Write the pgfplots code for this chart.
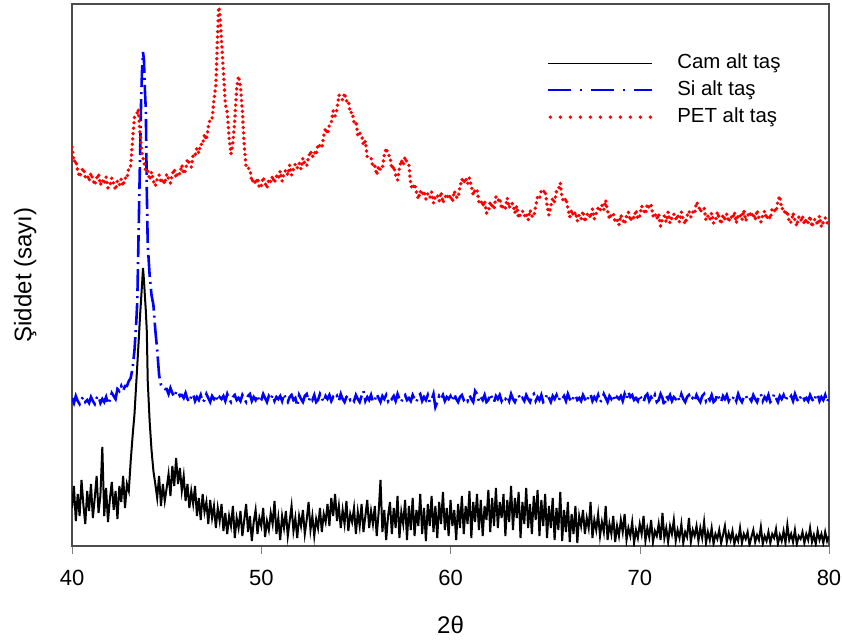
\documentclass[border=0pt]{standalone}
\usepackage{fontspec}
\setmainfont{Liberation Sans}
\usepackage{pgfplots}
\pgfplotsset{compat=1.18}
\pgfplotsset{
  thinlegend/.style={legend image code/.code={\draw[##1, line width=0.5pt] (0pt,0pt) -- (52pt,0pt);}},
  dashlegend/.style={legend image code/.code={\draw[##1, line width=1.1pt, dash pattern=on 11.5pt off 4.5pt on 1pt off 4.5pt] (0pt,0pt) -- (52pt,0pt);}},
  dotlegend/.style={legend image code/.code={\draw[##1, dash pattern=on 0pt off 5pt] (1pt,0pt) -- (52pt,0pt);}}}

\begin{document}
\begin{tikzpicture}
\begin{axis}[
  scale only axis,
  width=378.25pt, height=270.85pt,
  xmin=40, xmax=80, ymin=0, ymax=542,
  xtick={40,50,60,70,80}, ytick=\empty,
  xtick pos=bottom, tick align=outside, major tick length=4pt,
  axis line style={draw=black!70, line width=0.8pt},
  /pgf/number format/assume math mode=true,
  xticklabel style={font=\fontsize{11}{13}\selectfont, anchor=north, inner sep=0pt, yshift=-7.7pt},
  xlabel={2θ}, ylabel={Şiddet (sayı)},
  xlabel style={font=\fontsize{12}{14}\selectfont, at={(axis description cs:0.5,-0.146)}, anchor=center},
  ylabel style={font=\fontsize{12}{14}\selectfont, at={(axis description cs:-0.062,0.5)}, anchor=center},
  legend style={draw=none, fill=none, at={(axis description cs:0.6193,0.9171)}, anchor=north west,
    font=\fontsize{10.2}{12}\selectfont, row sep=3.7pt,
    nodes={inner sep=0pt, text height=7.5pt, text depth=2.3pt},
    /tikz/every odd column/.append style={column sep=11.5pt}},
  legend cell align=left,
]
% Cam alt tas
\addplot[black, line width=1.0pt, thinlegend] coordinates {
(40.0,38) (40.1,60) (40.2,25) (40.3,52) (40.4,30) (40.5,66) (40.6,41) (40.7,22) (40.8,55) (40.9,35)
(41.0,62) (41.1,28) (41.2,48) (41.3,70) (41.4,33) (41.5,51) (41.6,99) (41.7,30) (41.8,58) (41.9,24)
(42.0,47) (42.1,64) (42.2,36) (42.3,55) (42.4,27) (42.5,60) (42.6,44) (42.7,70) (42.8,38) (42.9,62)
(43.0,55) (43.1,85) (43.2,110) (43.3,132) (43.4,165) (43.5,198) (43.6,232) (43.7,262) (43.75,278) (43.8,266)
(43.85,250) (43.9,235) (43.95,215) (44.0,165) (44.1,125) (44.2,96) (44.3,75) (44.4,62) (44.5,48) (44.6,70)
(44.7,40) (44.8,62) (44.9,45) (45.0,58) (45.1,72) (45.2,50) (45.3,80) (45.4,60) (45.5,88) (45.6,62)
(45.7,78) (45.8,55) (45.9,70) (46.0,45) (46.1,62) (46.2,38) (46.3,55) (46.4,42) (46.5,60) (46.6,30)
(46.7,48) (46.8,26) (46.9,52) (47.0,34) (47.1,44) (47.2,22) (47.3,46) (47.4,28) (47.5,40) (47.6,18)
(47.7,38) (47.8,25) (47.9,42) (48.0,15) (48.1,33) (48.2,12) (48.3,30) (48.4,20) (48.5,40) (48.6,8)
(48.7,28) (48.8,18) (48.9,35) (49.0,10) (49.1,26) (49.2,42) (49.3,14) (49.4,30) (49.5,5) (49.6,24)
(49.7,36) (49.8,12) (49.9,28) (50.0,20) (50.1,38) (50.2,9) (50.3,25) (50.4,16) (50.5,33) (50.6,22)
(50.7,45) (50.8,12) (50.9,28) (51.0,6) (51.1,30) (51.2,18) (51.3,35) (51.4,10) (51.5,25) (51.6,40)
(51.7,15) (51.8,28) (51.9,8) (52.0,30) (52.1,20) (52.2,36) (52.3,12) (52.4,26) (52.5,44) (52.6,16)
(52.7,30) (52.8,10) (52.9,27) (53.0,18) (53.1,38) (53.2,14) (53.3,32) (53.4,24) (53.5,42) (53.6,20)
(53.7,48) (53.8,30) (53.9,52) (54.0,25) (54.1,40) (54.2,18) (54.3,36) (54.4,22) (54.5,45) (54.6,15)
(54.7,32) (54.8,24) (54.9,38) (55.0,12) (55.1,34) (55.2,20) (55.3,42) (55.4,14) (55.5,30) (55.6,46)
(55.7,18) (55.8,35) (55.9,22) (56.0,40) (56.1,10) (56.2,33) (56.3,66) (56.4,14) (56.5,36) (56.6,6)
(56.7,30) (56.8,44) (56.9,12) (57.0,38) (57.1,18) (57.2,50) (57.3,8) (57.4,34) (57.5,22) (57.6,46)
(57.7,6) (57.8,40) (57.9,16) (58.0,48) (58.1,10) (58.2,36) (58.3,20) (58.4,52) (58.5,12) (58.6,38)
(58.7,5) (58.8,42) (58.9,20) (59.0,50) (59.1,14) (59.2,40) (59.3,8) (59.4,44) (59.5,22) (59.6,54)
(59.7,16) (59.8,38) (59.9,10) (60.0,46) (60.1,20) (60.2,36) (60.3,6) (60.4,42) (60.5,18) (60.6,50)
(60.7,12) (60.8,40) (60.9,22) (61.0,55) (61.1,8) (61.2,44) (61.3,24) (61.4,52) (61.5,16) (61.6,46)
(61.7,10) (61.8,40) (61.9,26) (62.0,56) (62.1,14) (62.2,48) (62.3,20) (62.4,58) (62.5,18) (62.6,44)
(62.7,28) (62.8,52) (62.9,10) (63.0,46) (63.1,24) (63.2,60) (63.3,16) (63.4,48) (63.5,28) (63.6,54)
(63.7,8) (63.8,44) (63.9,22) (64.0,58) (64.1,18) (64.2,42) (64.3,12) (64.4,50) (64.5,26) (64.6,56)
(64.7,10) (64.8,46) (64.9,20) (65.0,52) (65.1,8) (65.2,40) (65.3,18) (65.4,48) (65.5,6) (65.6,38)
(65.7,16) (65.8,54) (65.9,5) (66.0,36) (66.1,14) (66.2,44) (66.3,4) (66.4,32) (66.5,12) (66.6,40)
(66.7,3) (66.8,30) (66.9,20) (67.0,36) (67.1,12) (67.2,28) (67.3,18) (67.4,44) (67.5,8) (67.6,26)
(67.7,16) (67.8,32) (67.9,10) (68.0,24) (68.1,14) (68.2,40) (68.3,6) (68.4,22) (68.5,12) (68.6,30)
(68.7,4) (68.8,20) (68.9,10) (69.0,26) (69.1,14) (69.2,32) (69.3,6) (69.4,18) (69.5,10) (69.6,24)
(69.7,3) (69.8,16) (69.9,8) (70.0,22) (70.1,12) (70.2,30) (70.3,5) (70.4,18) (70.5,9) (70.6,26)
(70.7,4) (70.8,15) (70.9,10) (71.0,22) (71.1,6) (71.2,33) (71.3,8) (71.4,18) (71.5,4) (71.6,20)
(71.7,12) (71.8,26) (71.9,5) (72.0,16) (72.1,8) (72.2,22) (72.3,3) (72.4,14) (72.5,9) (72.6,28)
(72.7,4) (72.8,16) (72.9,10) (73.0,20) (73.1,5) (73.2,18) (73.3,8) (73.4,24) (73.5,3) (73.6,14)
(73.7,6) (73.8,18) (73.9,2) (74.0,12) (74.1,7) (74.2,16) (74.3,3) (74.4,11) (74.5,20) (74.6,4)
(74.7,13) (74.8,6) (74.9,15) (75.0,2) (75.1,10) (75.2,5) (75.3,18) (75.4,3) (75.5,12) (75.6,7)
(75.7,14) (75.8,1) (75.9,9) (76.0,16) (76.1,4) (76.2,11) (76.3,6) (76.4,19) (76.5,2) (76.6,10)
(76.7,5) (76.8,14) (76.9,3) (77.0,12) (77.1,8) (77.2,17) (77.3,2) (77.4,11) (77.5,5) (77.6,15)
(77.7,3) (77.8,21) (77.9,6) (78.0,12) (78.1,4) (78.2,16) (78.3,2) (78.4,10) (78.5,7) (78.6,14)
(78.7,3) (78.8,12) (78.9,6) (79.0,18) (79.1,4) (79.2,11) (79.3,2) (79.4,15) (79.5,6) (79.6,12)
(79.7,3) (79.8,14) (79.9,5) (80.0,10)
};
\addlegendentry{Cam alt taş}
% Si alt tas
\addplot[blue, line width=1.3pt, dash pattern=on 11pt off 2.5pt on 1pt off 2.5pt, dashlegend] coordinates {
(40.0,148) (40.1,143) (40.2,150) (40.3,145) (40.4,142) (40.5,147) (40.6,149) (40.7,144) (40.8,146) (40.9,143)
(41.0,149) (41.1,145) (41.2,142) (41.3,148) (41.4,150) (41.5,143) (41.6,147) (41.7,144) (41.8,149) (41.9,142)
(42.0,146) (42.1,153) (42.2,150) (42.3,147) (42.4,157) (42.5,155) (42.6,160) (42.7,155) (42.8,160) (42.9,160)
(43.0,165) (43.1,168) (43.2,178) (43.3,196) (43.4,226) (43.45,246) (43.5,296) (43.55,346) (43.6,396) (43.65,446)
(43.7,476) (43.75,494) (43.8,486) (43.85,456) (43.9,436) (43.95,356) (44.0,301) (44.1,271) (44.2,251) (44.3,241)
(44.4,216) (44.5,196) (44.6,171) (44.7,161) (44.8,158) (44.9,157)
(45.0,157) (45.1,152) (45.2,158) (45.3,153) (45.4,149) (45.5,154) (45.6,155) (45.7,150) (45.8,151) (45.9,148)
(46.0,153) (46.1,147) (46.2,144) (46.3,150) (46.4,152) (46.5,145) (46.6,149) (46.7,146) (46.8,151) (46.9,144)
(47.0,146) (47.1,152) (47.2,148) (47.3,144) (47.4,150) (47.5,147) (47.6,151) (47.7,145) (47.8,149) (47.9,147)
(48.0,150) (48.1,145) (48.2,152) (48.3,147) (48.4,144) (48.5,149) (48.6,151) (48.7,146) (48.8,148) (48.9,145)
(49.0,151) (49.1,147) (49.2,144) (49.3,150) (49.4,152) (49.5,145) (49.6,149) (49.7,146) (49.8,151) (49.9,144)
(50.0,146) (50.1,152) (50.2,148) (50.3,144) (50.4,150) (50.5,147) (50.6,151) (50.7,145) (50.8,149) (50.9,147)
(51.0,150) (51.1,145) (51.2,152) (51.3,147) (51.4,144) (51.5,149) (51.6,151) (51.7,146) (51.8,148) (51.9,140)
(52.0,151) (52.1,147) (52.2,144) (52.3,150) (52.4,152) (52.5,145) (52.6,149) (52.7,146) (52.8,151) (52.9,144)
(53.0,146) (53.1,152) (53.2,148) (53.3,144) (53.4,150) (53.5,147) (53.6,151) (53.7,145) (53.8,149) (53.9,147)
(54.0,150) (54.1,145) (54.2,152) (54.3,147) (54.4,144) (54.5,149) (54.6,151) (54.7,146) (54.8,148) (54.9,145)
(55.0,151) (55.1,147) (55.2,144) (55.3,150) (55.4,155) (55.5,145) (55.6,149) (55.7,146) (55.8,151) (55.9,144)
(56.0,146) (56.1,152) (56.2,148) (56.3,144) (56.4,150) (56.5,147) (56.6,151) (56.7,145) (56.8,149) (56.9,147)
(57.0,150) (57.1,145) (57.2,152) (57.3,147) (57.4,144) (57.5,149) (57.6,151) (57.7,146) (57.8,148) (57.9,145)
(58.0,151) (58.1,147) (58.2,144) (58.3,150) (58.4,152) (58.5,145) (58.6,149) (58.7,146) (58.8,151) (58.9,144)
(59.0,146) (59.1,152) (59.2,139) (59.3,144) (59.4,150) (59.5,147) (59.6,151) (59.7,145) (59.8,149) (59.9,147)
(60.0,150) (60.1,145) (60.2,152) (60.3,147) (60.4,144) (60.5,149) (60.6,151) (60.7,146) (60.8,148) (60.9,145)
(61.0,151) (61.1,147) (61.2,144) (61.3,155) (61.4,152) (61.5,145) (61.6,149) (61.7,146) (61.8,151) (61.9,144)
(62.0,146) (62.1,152) (62.2,148) (62.3,144) (62.4,150) (62.5,147) (62.6,151) (62.7,145) (62.8,149) (62.9,147)
(63.0,150) (63.1,145) (63.2,152) (63.3,147) (63.4,144) (63.5,149) (63.6,151) (63.7,146) (63.8,148) (63.9,145)
(64.0,151) (64.1,147) (64.2,144) (64.3,150) (64.4,152) (64.5,145) (64.6,149) (64.7,146) (64.8,151) (64.9,144)
(65.0,146) (65.1,152) (65.2,148) (65.3,144) (65.4,150) (65.5,147) (65.6,151) (65.7,145) (65.8,149) (65.9,147)
(66.0,150) (66.1,145) (66.2,152) (66.3,147) (66.4,144) (66.5,149) (66.6,151) (66.7,146) (66.8,148) (66.9,145)
(67.0,151) (67.1,147) (67.2,144) (67.3,150) (67.4,152) (67.5,145) (67.6,149) (67.7,146) (67.8,151) (67.9,144)
(68.0,146) (68.1,152) (68.2,148) (68.3,144) (68.4,150) (68.5,147) (68.6,151) (68.7,145) (68.8,149) (68.9,147)
(69.0,150) (69.1,145) (69.2,152) (69.3,147) (69.4,154) (69.5,149) (69.6,151) (69.7,146) (69.8,148) (69.9,145)
(70.0,151) (70.1,147) (70.2,144) (70.3,150) (70.4,152) (70.5,145) (70.6,149) (70.7,146) (70.8,151) (70.9,144)
(71.0,146) (71.1,152) (71.2,148) (71.3,140) (71.4,150) (71.5,147) (71.6,151) (71.7,145) (71.8,149) (71.9,147)
(72.0,150) (72.1,145) (72.2,152) (72.3,147) (72.4,144) (72.5,149) (72.6,151) (72.7,146) (72.8,148) (72.9,145)
(73.0,151) (73.1,147) (73.2,144) (73.3,150) (73.4,152) (73.5,145) (73.6,149) (73.7,146) (73.8,151) (73.9,144)
(74.0,146) (74.1,152) (74.2,148) (74.3,144) (74.4,150) (74.5,147) (74.6,151) (74.7,145) (74.8,149) (74.9,147)
(75.0,150) (75.1,145) (75.2,152) (75.3,147) (75.4,144) (75.5,149) (75.6,151) (75.7,146) (75.8,148) (75.9,145)
(76.0,151) (76.1,147) (76.2,144) (76.3,150) (76.4,152) (76.5,145) (76.6,149) (76.7,146) (76.8,151) (76.9,144)
(77.0,146) (77.1,152) (77.2,148) (77.3,144) (77.4,150) (77.5,147) (77.6,151) (77.7,145) (77.8,149) (77.9,147)
(78.0,150) (78.1,145) (78.2,152) (78.3,147) (78.4,144) (78.5,149) (78.6,151) (78.7,146) (78.8,148) (78.9,145)
(79.0,151) (79.1,147) (79.2,144) (79.3,150) (79.4,152) (79.5,145) (79.6,149) (79.7,146) (79.8,151) (79.9,144)
(80.0,148)
};
\addlegendentry{Si alt taş}
% PET alt tas
\addplot[red, line width=1.9pt, line cap=round, dash pattern=on 0pt off 2.7pt, dotlegend] coordinates {
(40.0,399) (40.1,384) (40.2,386) (40.3,375) (40.4,369) (40.5,375) (40.6,378) (40.7,369) (40.8,371) (40.9,365)
(41.0,373) (41.1,367) (41.2,361) (41.3,368) (41.4,372) (41.5,361) (41.6,366) (41.7,362) (41.8,369) (41.9,358)
(42.0,360) (42.1,368) (42.2,362) (42.3,356) (42.4,365) (42.5,361) (42.6,367) (42.7,360) (42.8,368) (42.9,367)
(43.0,379) (43.1,380) (43.2,407) (43.3,429) (43.4,431) (43.5,437) (43.6,411) (43.7,392) (43.8,384) (43.9,374)
(44.0,375) (44.1,366) (44.2,374) (44.3,365) (44.4,360) (44.5,367) (44.6,371) (44.7,363) (44.8,367) (44.9,362)
(45.0,372) (45.1,367) (45.2,363) (45.3,372) (45.4,377) (45.5,368) (45.6,374) (45.7,372) (45.8,381) (45.9,372)
(46.0,376) (46.1,387) (46.2,383) (46.3,379) (46.4,391) (46.5,390) (46.6,398) (46.7,393) (46.8,402) (46.9,401)
(47.0,412) (47.1,406) (47.2,419) (47.3,427) (47.4,427) (47.5,446) (47.6,461) (47.7,516) (47.75,539) (47.8,535)
(47.9,505) (48.0,474) (48.1,442) (48.2,434) (48.3,408) (48.4,392) (48.5,403) (48.6,426) (48.7,458) (48.8,470)
(48.9,459) (49.0,435) (49.1,400) (49.2,378) (49.3,378) (49.4,377) (49.5,364) (49.6,367) (49.7,362) (49.8,368)
(49.9,358) (50.0,360) (50.1,369) (50.2,363) (50.3,358) (50.4,367) (50.5,364) (50.6,370) (50.7,363) (50.8,370)
(50.9,367) (51.0,375) (51.1,365) (51.2,373) (51.3,376) (51.4,371) (51.5,381) (51.6,371) (51.7,377) (51.8,382)
(51.9,378) (52.0,383) (52.1,377) (52.2,388) (52.3,382) (52.4,380) (52.5,389) (52.6,395) (52.7,389) (52.8,394)
(52.9,391) (53.0,402) (53.1,400) (53.2,398) (53.3,410) (53.4,418) (53.5,412) (53.6,421) (53.7,423) (53.8,435)
(53.9,430) (54.0,437) (54.1,451) (54.2,449) (54.3,446) (54.4,453) (54.5,445) (54.6,446) (54.7,433) (54.8,434)
(54.9,424) (55.0,425) (55.1,410) (55.2,413) (55.3,411) (55.4,401) (55.5,405) (55.6,389) (55.7,389) (55.8,388)
(55.9,379) (56.0,380) (56.1,371) (56.2,380) (56.3,376) (56.4,378) (56.5,391) (56.6,398) (56.7,391) (56.8,390)
(56.9,377) (57.0,380) (57.1,371) (57.2,366) (57.3,378) (57.4,386) (57.5,381) (57.6,389) (57.7,383) (57.8,381)
(57.9,361) (58.0,357) (58.1,362) (58.2,354) (58.3,347) (58.4,355) (58.5,351) (58.6,355) (58.7,347) (58.8,352)
(58.9,348) (59.0,354) (59.1,343) (59.2,350) (59.3,351) (59.4,345) (59.5,354) (59.6,343) (59.7,348) (59.8,352)
(59.9,347) (60.0,351) (60.1,344) (60.2,355) (60.3,349) (60.4,348) (60.5,359) (60.6,367) (60.7,363) (60.8,368)
(60.9,362) (61.0,368) (61.1,360) (61.2,351) (61.3,356) (61.4,357) (61.5,344) (61.6,346) (61.7,340) (61.8,345)
(61.9,333) (62.0,334) (62.1,344) (62.2,340) (62.3,337) (62.4,349) (62.5,345) (62.6,348) (62.7,337) (62.8,341)
(62.9,338) (63.0,348) (63.1,338) (63.2,343) (63.3,342) (63.4,333) (63.5,340) (63.6,328) (63.7,332) (63.8,335)
(63.9,330) (64.0,333) (64.1,326) (64.2,336) (64.3,330) (64.4,329) (64.5,340) (64.6,349) (64.7,347) (64.8,356)
(64.9,354) (65.0,356) (65.1,341) (65.2,331) (65.3,340) (65.4,348) (65.5,344) (65.6,355) (65.7,356) (65.8,363)
(65.9,348) (66.0,344) (66.1,348) (66.2,338) (66.3,329) (66.4,336) (66.5,330) (66.6,334) (66.7,325) (66.8,331)
(66.9,327) (67.0,335) (67.1,324) (67.2,331) (67.3,333) (67.4,328) (67.5,337) (67.6,327) (67.7,333) (67.8,338)
(67.9,335) (68.0,341) (68.1,336) (68.2,346) (68.3,335) (68.4,327) (68.5,331) (68.6,333) (68.7,324) (68.8,326)
(68.9,321) (69.0,331) (69.1,326) (69.2,322) (69.3,330) (69.4,334) (69.5,325) (69.6,330) (69.7,328) (69.8,336)
(69.9,327) (70.0,330) (70.1,340) (70.2,336) (70.3,332) (70.4,342) (70.5,338) (70.6,341) (70.7,330) (70.8,333)
(70.9,327) (71.0,332) (71.1,320) (71.2,327) (71.3,330) (71.4,324) (71.5,334) (71.6,323) (71.7,328) (71.8,332)
(71.9,327) (72.0,331) (72.1,324) (72.2,334) (72.3,326) (72.4,322) (72.5,330) (72.6,335) (72.7,329) (72.8,334)
(72.9,332) (73.0,344) (73.1,341) (73.2,334) (73.3,338) (73.4,338) (73.5,326) (73.6,330) (73.7,326) (73.8,333)
(73.9,323) (74.0,325) (74.1,334) (74.2,328) (74.3,322) (74.4,331) (74.5,327) (74.6,332) (74.7,324) (74.8,330)
(74.9,327) (75.0,334) (75.1,323) (75.2,330) (75.3,332) (75.4,326) (75.5,336) (75.6,325) (75.7,330) (75.8,334)
(75.9,329) (76.0,333) (76.1,326) (76.2,336) (76.3,328) (76.4,324) (76.5,331) (76.6,335) (76.7,327) (76.8,331)
(76.9,327) (77.0,338) (77.1,336) (77.2,334) (77.3,345) (77.4,350) (77.5,337) (77.6,338) (77.7,331) (77.8,335)
(77.9,323) (78.0,324) (78.1,333) (78.2,326) (78.3,320) (78.4,329) (78.5,325) (78.6,330) (78.7,322) (78.8,327)
(78.9,323) (79.0,330) (79.1,319) (79.2,326) (79.3,327) (79.4,321) (79.5,330) (79.6,319) (79.7,324) (79.8,328)
(79.9,323) (80.0,326)
};
\addlegendentry{PET alt taş}
\end{axis}
\path (-36pt,-46.5pt) rectangle (384.75pt,272.85pt);
\end{tikzpicture}
\end{document}
